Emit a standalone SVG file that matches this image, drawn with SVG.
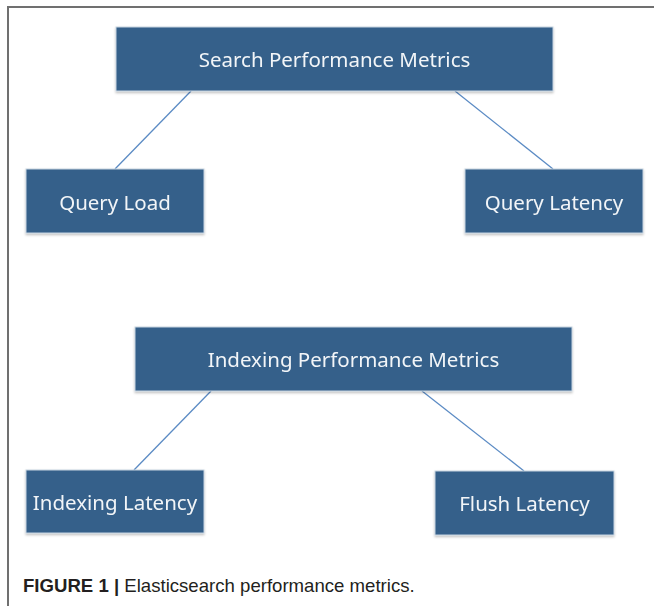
<svg xmlns="http://www.w3.org/2000/svg" width="654" height="606" viewBox="0 0 654 606">
  <style>
    .box { fill: #36618a; stroke: #c5d3e0; stroke-width: 1; }
    .label { font-family: "Noto Sans", "Open Sans", sans-serif; font-size: 20.5px; fill: #f2f5f8; text-anchor: middle; }
    .link { stroke: #5b8bc4; stroke-width: 1.3; fill: none; }
    .frame { stroke: #707070; stroke-width: 2; fill: none; }
    .caption { font-family: "Liberation Sans", Arial, sans-serif; font-size: 18.6px; fill: #231f20; }
  </style>
  <defs>
    <filter id="shadow" x="-5%" y="-5%" width="110%" height="120%">
      <feDropShadow dx="0" dy="1.5" stdDeviation="1" flood-color="#000" flood-opacity="0.25"/>
    </filter>
  </defs>
  <rect width="654" height="606" fill="#ffffff"/>
  <!-- figure frame: top and left rules -->
  <path class="frame" d="M8 606 V7 H654"/>

  <g id="connectors">
    <line class="link" x1="191" y1="91" x2="115" y2="169"/>
    <line class="link" x1="455" y1="91" x2="553" y2="169"/>
    <line class="link" x1="211" y1="391" x2="134" y2="470"/>
    <line class="link" x1="422" y1="391" x2="524" y2="471"/>
  </g>

  <g id="search-metrics" filter="url(#shadow)">
    <rect class="box" x="116" y="27" width="437" height="64"/>
    <text class="label" x="334.5" y="67">Search Performance Metrics</text>
  </g>
  <g id="query-load" filter="url(#shadow)">
    <rect class="box" x="26" y="169" width="178" height="64"/>
    <text class="label" x="115" y="210">Query Load</text>
  </g>
  <g id="query-latency" filter="url(#shadow)">
    <rect class="box" x="465" y="169" width="178" height="64"/>
    <text class="label" x="554" y="210">Query Latency</text>
  </g>
  <g id="indexing-metrics" filter="url(#shadow)">
    <rect class="box" x="135" y="327" width="437" height="64"/>
    <text class="label" x="353.5" y="367">Indexing Performance Metrics</text>
  </g>
  <g id="indexing-latency" filter="url(#shadow)">
    <rect class="box" x="26" y="470" width="178" height="63"/>
    <text class="label" x="115" y="510">Indexing Latency</text>
  </g>
  <g id="flush-latency" filter="url(#shadow)">
    <rect class="box" x="435" y="471" width="179" height="64"/>
    <text class="label" x="524.5" y="511">Flush Latency</text>
  </g>

  <text class="caption" x="23" y="592"><tspan font-weight="bold">FIGURE 1 | </tspan>Elasticsearch performance metrics.</text>
</svg>
